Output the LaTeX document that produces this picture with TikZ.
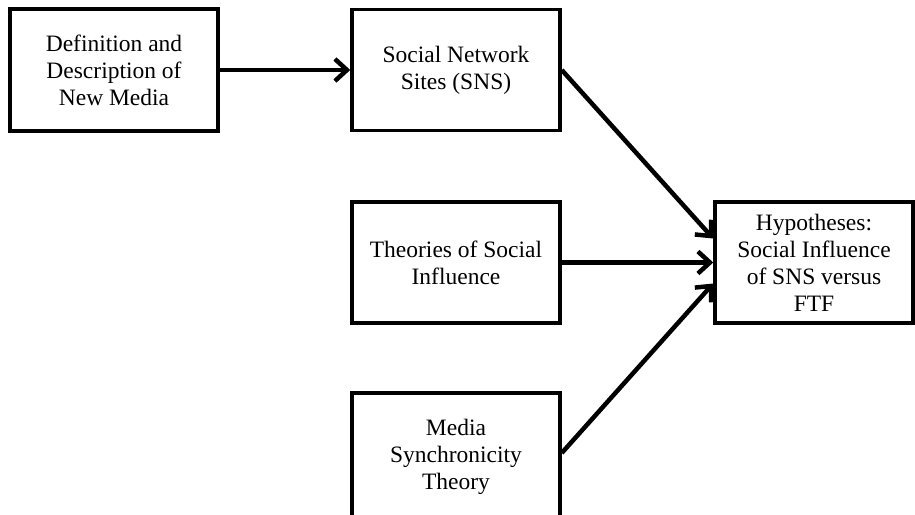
\documentclass[tikz,border=0pt]{standalone}
\usepackage{fontspec}
\setmainfont{Liberation Serif}
\usetikzlibrary{arrows.meta}
\begin{document}
\begin{tikzpicture}[x=1pt, y=-1pt, block/.style={rectangle, draw,
      line width=3.5pt, inner sep=0pt, align=center,
      font=\fontsize{23.5}{27}\selectfont},
    link/.style={line width=4.5pt,
      -{Straight Barb[length=12pt, width=22pt, line width=4.5pt]}}]
    \useasboundingbox (0,0) rectangle (915,514);
    \begin{scope}[every node/.style={block}]
      \node [minimum width=208, minimum height=122] (d) at (114,70)
        {Definition and\\ Description of\\ New Media};
      \node [minimum width=208, minimum height=121] (s) at (456,70)
        {Social Network\\ Sites (SNS)};
      \node [minimum width=208, minimum height=121] (t) at (456,262.5)
        {Theories of Social\\ Influence};
      \node [minimum width=208, minimum height=128] (m) at (456,457)
        {Media\\ Synchronicity\\ Theory};
      \node [minimum width=198, minimum height=121] (h) at (814,262.5)
        {Hypotheses:\\ Social Influence\\ of SNS versus\\ FTF};
    \end{scope}
    \begin{scope}[every path/.style={link}]
      \draw (d) to (s);
      \draw (s.east) to ([yshift=24]h.west);
      \draw (t) to (h);
      \draw ([yshift=4]m.east) to ([yshift=-21]h.west);
    \end{scope}
  \end{tikzpicture}
\end{document}
